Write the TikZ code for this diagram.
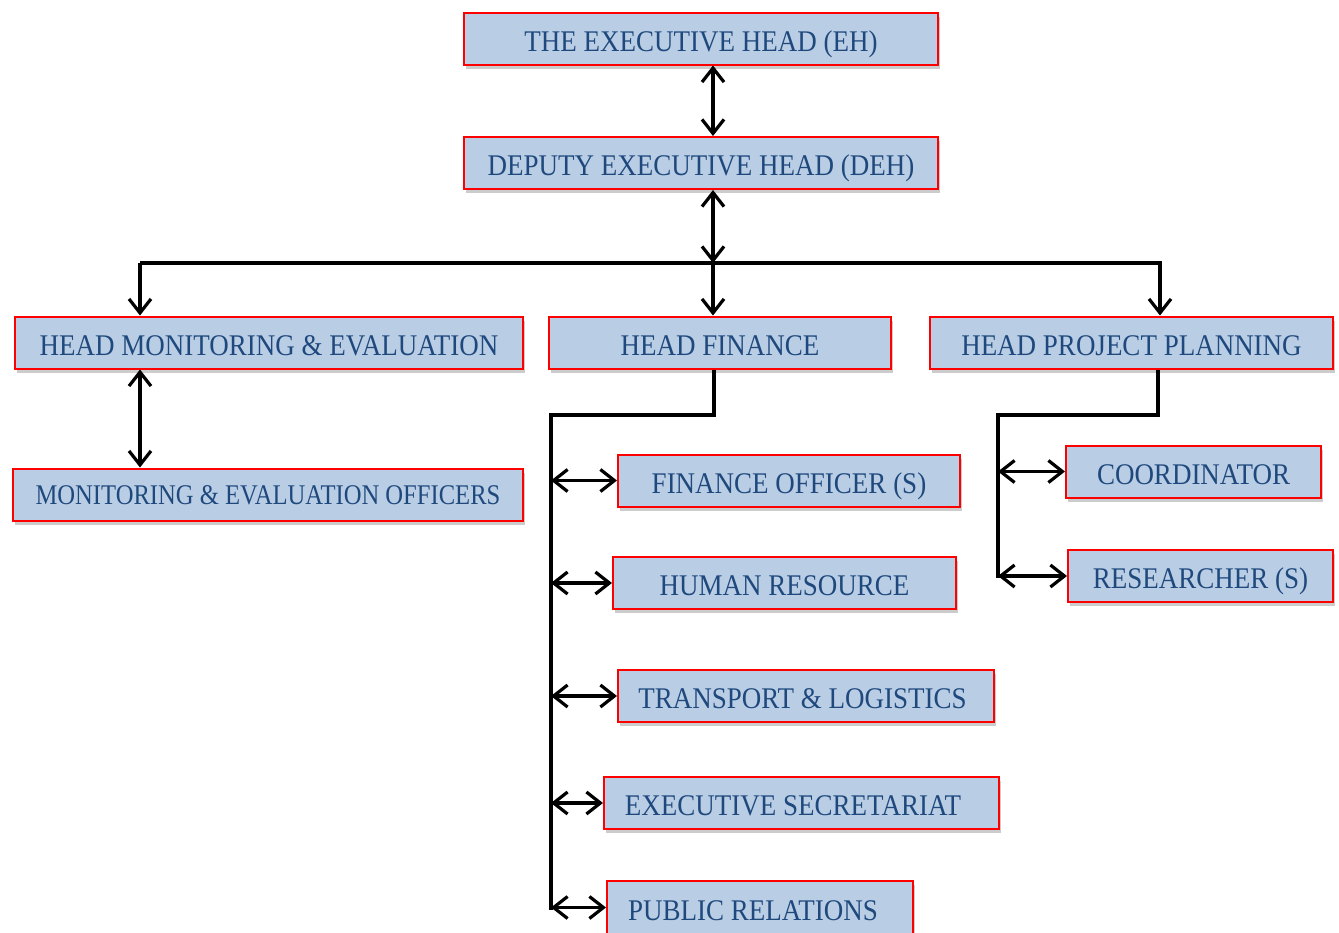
\documentclass[tikz,border=0pt]{standalone}
\usepackage{fontspec}
\setmainfont[FakeStretch=0.9]{Liberation Serif}
\usetikzlibrary{arrows.meta,shadows}
\definecolor{boxfill}{HTML}{B9CDE5}
\definecolor{boxtext}{HTML}{1F497D}
\begin{document}
\begin{tikzpicture}[x=1pt,y=-1pt,
  box/.style={draw=red, line width=2pt, fill=boxfill, text=boxtext,
    font=\fontsize{30}{36}\selectfont, inner sep=0pt, minimum height=52pt,
    text height=25pt, text depth=0pt,
    drop shadow={shadow xshift=2pt,shadow yshift=-4pt,opacity=0.4,fill=gray}},
  conn/.style={line width=3.2pt, black},
  dbl/.style={conn, {Straight Barb[length=14pt,width=22pt]}-{Straight Barb[length=14pt,width=22pt]}},
  down/.style={conn, -{Straight Barb[length=14pt,width=22pt]}}
]
\useasboundingbox (0,0) rectangle (1339,932);

\node[box, minimum width=474pt] (EH) at (701,38.5) {THE EXECUTIVE HEAD (EH)};
\node[box, minimum width=474pt] (DEH) at (701,163) {DEPUTY EXECUTIVE HEAD (DEH)};
\node[box, minimum width=508pt] (HME) at (269,342.5) {HEAD MONITORING \& EVALUATION};
\node[box, minimum width=342pt] (HF) at (720,342.5) {HEAD FINANCE};
\node[box, minimum width=403pt] (HPP) at (1131.5,342.5) {HEAD PROJECT PLANNING};
\node[box, minimum width=510pt, text height=19pt, font=\fontsize{28.5}{34}\selectfont] (MEO) at (268,494.5) {\scalebox{0.96}[1]{MONITORING \& EVALUATION OFFICERS}};
\node[box, minimum width=342pt] (FO) at (789,480.5) {FINANCE OFFICER (S)};
\node[box, minimum width=343pt] (HR) at (784.5,583) {HUMAN RESOURCE};
\node[box, minimum width=376pt] (TL) at (806,696) {TRANSPORT \& LOGISTICS\hspace*{7pt}};
\node[box, minimum width=395pt] (ES) at (801.5,803) {EXECUTIVE SECRETARIAT\hspace*{17pt}};
\node[box, minimum width=306pt, minimum height=53pt] (PR) at (760,907.5) {PUBLIC RELATIONS\hspace*{14pt}};
\node[box, minimum width=255pt] (CO) at (1193.5,471.5) {COORDINATOR};
\node[box, minimum width=265pt] (RS) at (1200.5,576) {RESEARCHER (S)};

\coordinate (busL) at (140,263);
\coordinate (busM) at (713,263);
\coordinate (busR) at (1162,263);
\coordinate (hpp) at (1160,263);
\coordinate (hfA) at (714,415);
\coordinate (hfB) at (551,415);
\coordinate (hfC) at (551,910);
\coordinate (ppA) at (1158,415);
\coordinate (ppB) at (998,415);
\coordinate (ppC) at (998,578);

\draw[dbl] (EH.south -| busM) -- (DEH.north -| busM);
\draw[dbl] (DEH.south -| busM) -- (busM);
\draw[conn] (busL) -- (busR);
\draw[down] (busL) -- (HME.north -| busL);
\draw[down] (busM) -- (HF.north -| busM);
\draw[down] (hpp) -- (HPP.north -| hpp);
\draw[dbl] (HME.south -| busL) -- (MEO.north -| busL);

\draw[conn] (HF.south -| hfA) -- (hfA) -- (hfB) -- (hfC);
\draw[dbl] (FO.west -| hfB) -- (FO.west);
\draw[dbl] (HR.west -| hfB) -- (HR.west);
\draw[dbl] (TL.west -| hfB) -- (TL.west);
\draw[dbl] (ES.west -| hfB) -- (ES.west);
\draw[dbl] (PR.west -| hfB) -- (PR.west);

\draw[conn] (HPP.south -| ppA) -- (ppA) -- (ppB) -- (ppC);
\draw[dbl] (CO.west -| ppB) -- (CO.west);
\draw[dbl] (RS.west -| ppB) -- (RS.west);
\end{tikzpicture}
\end{document}
